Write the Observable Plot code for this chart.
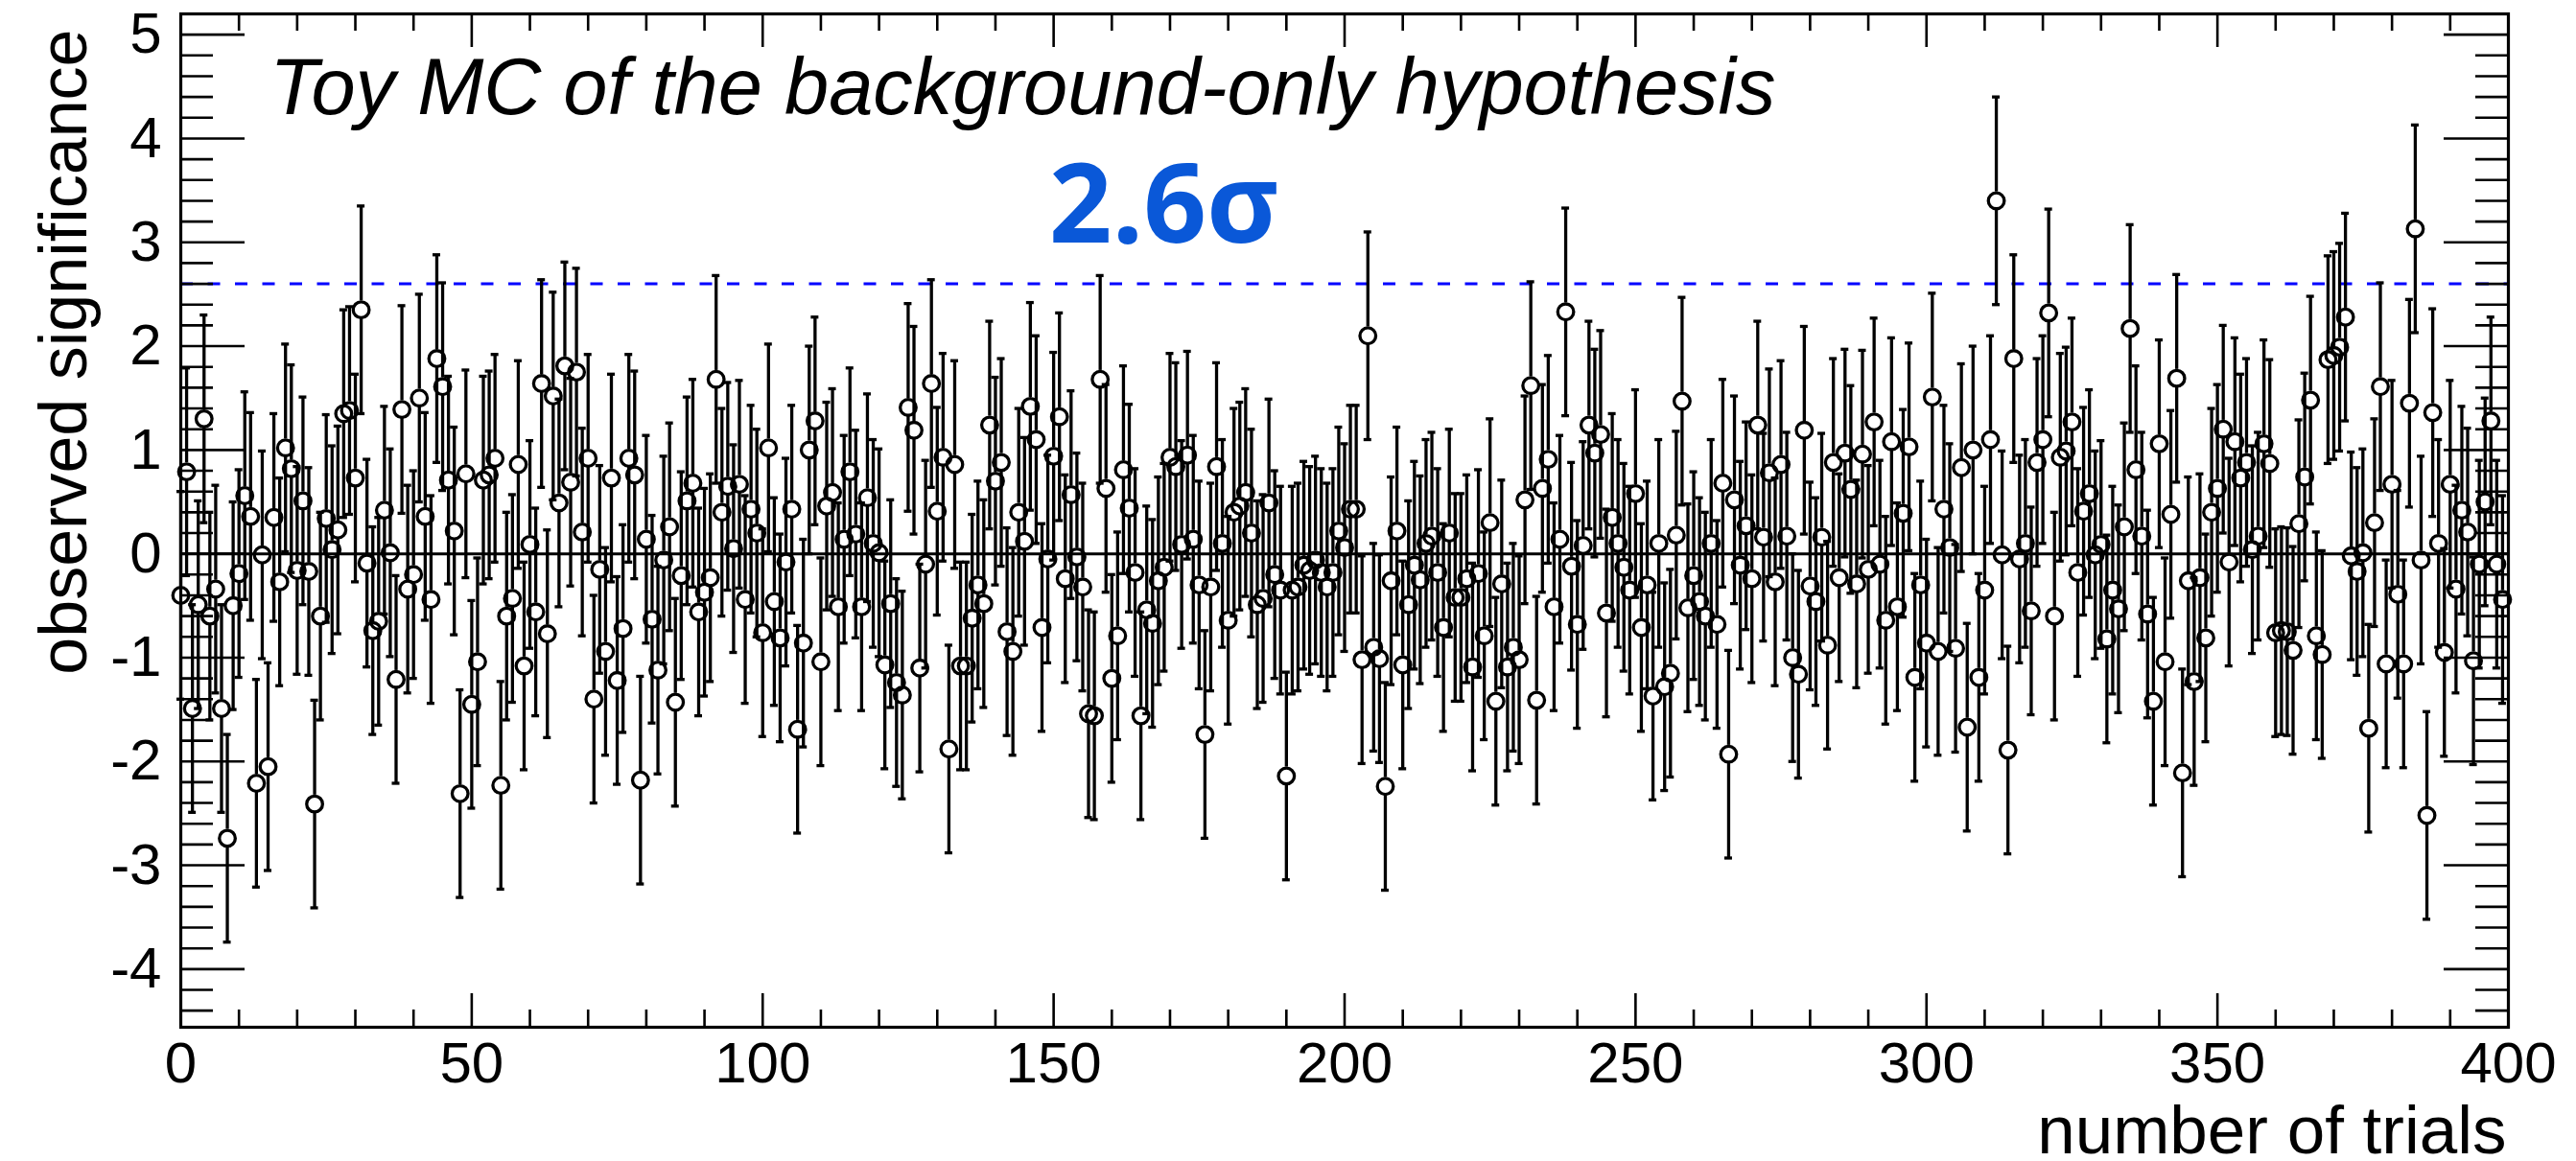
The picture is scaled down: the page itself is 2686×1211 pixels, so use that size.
<!DOCTYPE html>
<html><head><meta charset="utf-8">
<script src="https://cdn.jsdelivr.net/npm/d3@7"></script>
<script src="https://cdn.jsdelivr.net/npm/@observablehq/plot@0.6"></script>
<style>html,body{margin:0;padding:0;background:#fff;overflow:hidden;} #chart svg{display:block;}</style>
</head><body><div id="chart"></div>
<script>
// observed significance of each toy MC trial
const significance = [
-0.40,0.79,-1.49,-0.49,1.30,-0.60,-0.34,-1.49,-2.74,-0.50,
-0.19,0.56,0.36,-2.21,-0.01,-2.05,0.35,-0.27,1.02,0.82,
-0.16,0.51,-0.17,-2.41,-0.60,0.34,0.04,0.23,1.35,1.38,
0.73,2.35,-0.09,-0.74,-0.65,0.42,0.01,-1.21,1.39,-0.34,
-0.20,1.50,0.36,-0.44,1.88,1.61,0.71,0.22,-2.31,0.77,
-1.45,-1.04,0.71,0.76,0.92,-2.23,-0.60,-0.43,0.86,-1.08,
0.09,-0.56,1.64,-0.77,1.52,0.49,1.81,0.69,1.75,0.21,
0.92,-1.40,-0.15,-0.94,0.73,-1.22,-0.72,0.92,0.76,-2.18,
0.14,-0.63,-1.12,-0.06,0.26,-1.43,-0.21,0.51,0.68,-0.56,
-0.37,-0.23,1.68,0.40,0.65,0.05,0.67,-0.44,0.43,0.20,
-0.76,1.02,-0.46,-0.81,-0.08,0.43,-1.69,-0.86,1.00,1.28,
-1.04,0.46,0.59,-0.51,0.14,0.79,0.19,-0.51,0.54,0.10,
0.01,-1.07,-0.48,-1.24,-1.36,1.41,1.19,-1.10,-0.10,1.64,
0.41,0.93,-1.88,0.86,-1.08,-1.08,-0.62,-0.30,-0.48,1.24,
0.70,0.88,-0.75,-0.94,0.40,0.12,1.42,1.10,-0.71,-0.05,
0.94,1.32,-0.24,0.57,-0.03,-0.32,-1.54,-1.56,1.68,0.63,
-1.20,-0.79,0.81,0.44,-0.18,-1.56,-0.54,-0.67,-0.26,-0.13,
0.93,0.84,0.09,0.95,0.14,-0.30,-1.74,-0.32,0.84,0.10,
-0.64,0.40,0.46,0.59,0.20,-0.49,-0.43,0.49,-0.20,-0.35,
-2.14,-0.35,-0.32,-0.11,-0.16,-0.06,-0.18,-0.32,-0.18,0.22,
0.06,0.43,0.43,-1.02,2.10,-0.90,-1.01,-2.24,-0.26,0.22,
-1.07,-0.49,-0.11,-0.25,0.10,0.17,-0.18,-0.71,0.20,-0.42,
-0.42,-0.24,-1.09,-0.19,-0.79,0.30,-1.42,-0.29,-1.09,-0.90,
-1.02,0.52,1.62,-1.41,0.63,0.91,-0.51,0.14,2.33,-0.12,
-0.68,0.08,1.24,0.97,1.15,-0.57,0.35,0.10,-0.13,-0.35,
0.58,-0.71,-0.30,-1.37,0.10,-1.28,-1.15,0.18,1.47,-0.52,
-0.21,-0.46,-0.60,0.10,-0.68,0.68,-1.93,0.52,-0.11,0.27,
-0.24,1.24,0.16,0.78,-0.27,0.86,0.17,-1.00,-1.16,1.19,
-0.31,-0.46,0.16,-0.88,0.88,-0.23,0.97,0.62,-0.29,0.96,
-0.15,1.27,-0.10,-0.64,1.08,-0.51,0.39,1.03,-1.19,-0.30,
-0.86,1.51,-0.94,0.43,0.06,-0.91,0.83,-1.67,1.00,-1.19,
-0.35,1.10,3.40,-0.01,-1.89,1.88,-0.05,0.10,-0.55,0.88,
1.10,2.32,-0.60,0.93,0.99,1.27,-0.18,0.41,0.58,-0.01,
0.09,-0.82,-0.35,-0.53,0.26,2.17,0.81,0.17,-0.58,-1.42,
1.06,-1.04,0.38,1.69,-2.11,-0.26,-1.23,-0.23,-0.81,0.40,
0.63,1.20,-0.08,1.08,0.73,0.88,0.04,0.17,1.06,0.87,
-0.76,-0.74,-0.75,-0.93,0.29,0.74,1.48,-0.79,-0.97,1.87,
1.91,1.99,2.28,-0.02,-0.17,0.01,-1.68,0.30,1.61,-1.06,
0.67,-0.39,-1.06,1.45,3.13,-0.06,-2.52,1.36,0.10,-0.95,
0.67,-0.34,0.42,0.21,-1.03,-0.10,0.50,1.28,-0.10,-0.44
];
// trial number of each toy (0 .. 399)
const trials = significance.map((_, i) => i);
// symmetric error on each observed significance
const sigmaError = 1;
const threshold = 2.6;

const xMajorTicks = [0, 50, 100, 150, 200, 250, 300, 350, 400];
const xMinorTicks = [10,20,30,40,60,70,80,90,110,120,130,140,160,170,180,190,210,220,230,240,260,270,280,290,310,320,330,340,360,370,380,390];
const yMajorTicks = [-4, -3, -2, -1, 0, 1, 2, 3, 4, 5];
const yMinorTicks = [-4.4,-4.2,-3.8,-3.6,-3.4,-3.2,-2.8,-2.6,-2.4,-2.2,-1.8,-1.6,-1.4,-1.2,-0.8,-0.6,-0.4,-0.2,0.2,0.4,0.6,0.8,1.2,1.4,1.6,1.8,2.2,2.4,2.6,2.8,3.2,3.4,3.6,3.8,4.2,4.4,4.6,4.8,5.2];

const titleText = "Toy MC of the background-only hypothesis";
const xLabel = "number of trials";
const yLabel = "observed significance";

const rows = trials.map((t, i) => ({trial: t, sig: significance[i]}));

const W = 2686, H = 1211;
const mL = 188, mR = 71, mT = 14, mB = 140;
const innerW = W - mL - mR, innerH = H - mT - mB;
const yDomain = [-4.56, 5.2];
const pxPerUnit = innerH / (yDomain[1] - yDomain[0]);
const pxPerTrial = innerW / 400;
const markerR = 8.3;
const gap = (markerR + 1) / pxPerUnit;
const capHalf = 4 / pxPerTrial;
const lw = 3.3;

const chart = Plot.plot({
  width: W, height: H,
  marginLeft: mL, marginRight: mR, marginTop: mT, marginBottom: mB,
  style: {fontFamily: "'Liberation Sans', Arial, Helvetica, sans-serif", fontSize: "60px", background: "white", color: "black"},
  x: {domain: [0, 400]},
  y: {domain: yDomain},
  marks: [
    Plot.ruleY([threshold], {y: d => d, stroke: "#0000ff", strokeWidth: 3, strokeDasharray: "13,15.5"}),
    Plot.ruleY([0], {y: d => d, stroke: "black", strokeWidth: 3}),
    Plot.ruleX(rows, {x: "trial", y1: d => d.sig + gap, y2: d => d.sig + sigmaError, stroke: "black", strokeWidth: lw}),
    Plot.ruleX(rows, {x: "trial", y1: d => d.sig - sigmaError, y2: d => d.sig - gap, stroke: "black", strokeWidth: lw}),
    Plot.ruleY(rows, {y: d => d.sig + sigmaError, x1: d => d.trial - capHalf, x2: d => d.trial + capHalf, stroke: "black", strokeWidth: lw}),
    Plot.ruleY(rows, {y: d => d.sig - sigmaError, x1: d => d.trial - capHalf, x2: d => d.trial + capHalf, stroke: "black", strokeWidth: lw}),
    Plot.dot(rows, {x: "trial", y: "sig", r: markerR, stroke: "black", strokeWidth: 3.3, fill: "none"}),
    // ROOT-style inward ticks on all four sides
    Plot.tickX(xMajorTicks, {x: d => d, insetTop: innerH - 35, stroke: "black", strokeWidth: 2.6}),
    Plot.tickX(xMajorTicks, {x: d => d, insetBottom: innerH - 35, stroke: "black", strokeWidth: 2.6}),
    Plot.tickX(xMinorTicks, {x: d => d, insetTop: innerH - 18, stroke: "black", strokeWidth: 2.6}),
    Plot.tickX(xMinorTicks, {x: d => d, insetBottom: innerH - 18, stroke: "black", strokeWidth: 2.6}),
    Plot.tickY(yMajorTicks, {y: d => d, insetRight: innerW - 67, stroke: "black", strokeWidth: 2.6}),
    Plot.tickY(yMajorTicks, {y: d => d, insetLeft: innerW - 67, stroke: "black", strokeWidth: 2.6}),
    Plot.tickY(yMinorTicks, {y: d => d, insetRight: innerW - 34, stroke: "black", strokeWidth: 2.6}),
    Plot.tickY(yMinorTicks, {y: d => d, insetLeft: innerW - 34, stroke: "black", strokeWidth: 2.6}),
    Plot.frame({stroke: "black", strokeWidth: 3.2}),
    Plot.axisX({ticks: xMajorTicks, tickSize: 0, tickPadding: 15, tickFormat: d => String(d), label: null, fontSize: 60}),
    Plot.axisY({ticks: yMajorTicks, tickSize: 0, tickPadding: 20, tickFormat: d => String(d), label: null, fontSize: 60}),
    Plot.text([titleText], {text: d => d, x: 15.3, y: 4.234, textAnchor: "start", lineAnchor: "bottom", fontSize: 83, fontStyle: "italic", fill: "black"}),
    Plot.text([threshold], {text: d => `${d}σ`, x: 149.2, y: 3.0, textAnchor: "start", lineAnchor: "bottom", fontSize: 115, fontWeight: "bold", fontFamily: "'Open Sans', 'Noto Sans', sans-serif", fill: "#0a58d8"}),
    Plot.text([yLabel], {text: d => d, frameAnchor: "top-left", rotate: -90, textAnchor: "end", lineAnchor: "bottom", dx: -99, dy: 16, fontSize: 70, fill: "black"}),
    Plot.text([xLabel], {text: d => d, frameAnchor: "bottom-right", textAnchor: "end", lineAnchor: "bottom", dx: -2, dy: 131, fontSize: 71, fill: "black"})
  ]
});
document.getElementById("chart").appendChild(chart);
</script>
</body></html>
